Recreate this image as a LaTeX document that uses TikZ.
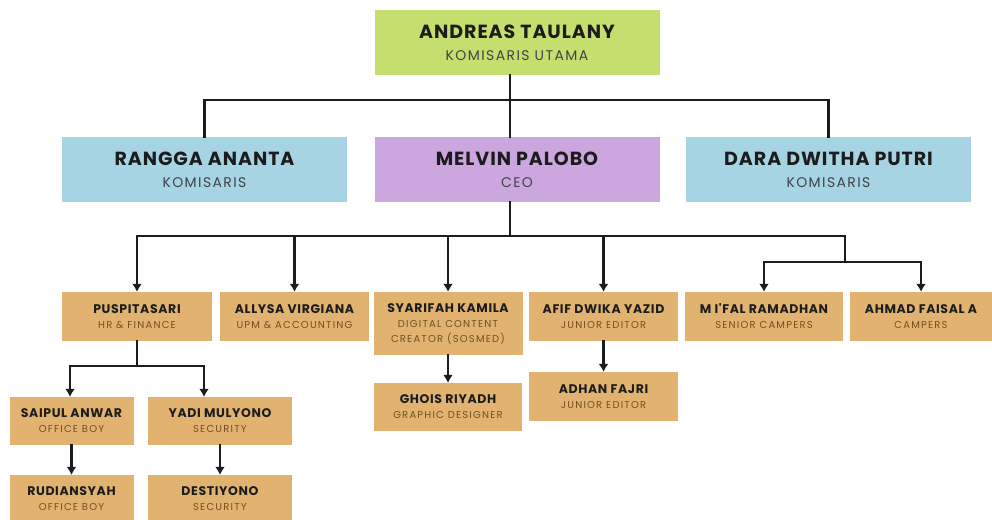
\documentclass[tikz,border=0pt]{standalone}
\usepackage{fontspec}
\setmainfont{Poppins}
\newfontfamily\namefamily{Poppins}[LetterSpace=5]
\newfontfamily\subfamily{Poppins}[LetterSpace=10]
\newfontfamily\staffsubfamily{Poppins}[LetterSpace=12]
\usetikzlibrary{arrows.meta}

\definecolor{topgreen}{RGB}{197,223,110}
\definecolor{boardblue}{RGB}{166,212,227}
\definecolor{ceopurple}{RGB}{203,166,223}
\definecolor{staffbrown}{RGB}{226,179,112}
\definecolor{inkdark}{RGB}{28,28,28}
\definecolor{subgray}{RGB}{62,68,72}
\definecolor{subbrown}{RGB}{112,80,34}

\newcommand{\bigname}{\fontsize{19}{22}\selectfont\namefamily\bfseries}
\newcommand{\smallname}{\fontsize{12.5}{15}\selectfont\namefamily\bfseries}
\newcommand{\boardsub}{\color{subgray}\subfamily}
\newcommand{\staffsub}{\color{subbrown}\staffsubfamily}

\tikzset{
    box/.style={inner sep=0pt, align=center, text=inkdark},
    board/.style={box, minimum width=285pt, minimum height=65pt,
        font=\fontsize{14}{22}\selectfont},
    staff/.style={box, fill=staffbrown, minimum height=49pt,
        font=\fontsize{10}{15}\selectfont},
    link/.style={line width=2.4pt, inkdark, line cap=rect},
    downarrow/.style={link, -{Latex[length=8pt,width=10pt]}},
}

\begin{document}
\begin{tikzpicture}[x=1pt,y=-1pt]
    \path[use as bounding box, fill=white] (0,0) rectangle (992,519);

    % board of commissioners
    \node[board, fill=topgreen] (andreas) at (517,42.5)
        {{\bigname ANDREAS TAULANY}\\{\boardsub KOMISARIS UTAMA}};
    \node[board, fill=boardblue] (rangga) at (204.5,169.5)
        {{\bigname RANGGA ANANTA}\\{\boardsub KOMISARIS}};
    \node[board, fill=ceopurple] (melvin) at (517,169.5)
        {{\bigname MELVIN PALOBO}\\{\boardsub CEO}};
    \node[board, fill=boardblue] (dara) at (828.5,169.5)
        {{\bigname DARA DWITHA PUTRI}\\{\boardsub KOMISARIS}};

    % staff under the CEO
    \node[staff, minimum width=150pt] (puspita) at (137,316.5)
        {{\smallname PUSPITASARI}\\{\staffsub HR \& FINANCE}};
    \node[staff, minimum width=149pt] (allysa) at (294.5,316.5)
        {{\smallname ALLYSA VIRGIANA}\\{\staffsub UPM \& ACCOUNTING}};
    \node[staff, minimum width=149pt, minimum height=63pt] (syarifah) at (448,323.5)
        {{\smallname SYARIFAH KAMILA}\\{\staffsub DIGITAL CONTENT}\\{\staffsub CREATOR (SOSMED)}};
    \node[staff, minimum width=149pt] (afif) at (603.5,316.5)
        {{\smallname AFIF DWIKA YAZID}\\{\staffsub JUNIOR EDITOR}};
    \node[staff, minimum width=158pt] (mifal) at (764,316.5)
        {{\smallname M I'FAL RAMADHAN}\\{\staffsub SENIOR CAMPERS}};
    \node[staff, minimum width=142pt] (ahmad) at (921,316.5)
        {{\smallname AHMAD FAISAL A}\\{\staffsub CAMPERS}};

    \node[staff, minimum width=148pt, minimum height=48pt] (ghois) at (448,407)
        {{\smallname GHOIS RIYADH}\\{\staffsub GRAPHIC DESIGNER}};
    \node[staff, minimum width=149pt] (adhan) at (603.5,396.5)
        {{\smallname ADHAN FAJRI}\\{\staffsub JUNIOR EDITOR}};

    % staff under HR
    \node[staff, minimum width=124pt, minimum height=48pt] (saipul) at (71.5,421)
        {{\smallname SAIPUL ANWAR}\\{\staffsub OFFICE BOY}};
    \node[staff, minimum width=144pt, minimum height=48pt] (yadi) at (220,421)
        {{\smallname YADI MULYONO}\\{\staffsub SECURITY}};
    \node[staff, minimum width=124pt, minimum height=48pt] (rudian) at (71.5,499)
        {{\smallname RUDIANSYAH}\\{\staffsub OFFICE BOY}};
    \node[staff, minimum width=144pt, minimum height=48pt] (destiyono) at (220,499)
        {{\smallname DESTIYONO}\\{\staffsub SECURITY}};

    % board lines
    \coordinate (trunk) at (510,100);
    \draw[link] (andreas.south -| trunk) -- (melvin.north -| trunk);
    \draw[link] (rangga.north) |- (trunk) -| (dara.north);

    % CEO lines
    \coordinate (bus) at (510,236);
    \coordinate (campfork) at (845,236);
    \coordinate (campbus) at (845,262);
    \draw[link] (melvin.south -| bus) -- (bus);
    \draw[link] (bus -| puspita.north) -- (campfork) -- (campbus);
    \foreach \n in {puspita,allysa,syarifah,afif}
        \draw[downarrow] (bus -| \n.north) -- (\n.north);
    \draw[link] (campbus -| mifal.north) -- (campbus -| ahmad.north);
    \foreach \n in {mifal,ahmad}
        \draw[downarrow] (campbus -| \n.north) -- (\n.north);

    \draw[downarrow] (syarifah.south) -- (ghois.north);
    \draw[downarrow] (afif.south) -- (adhan.north);

    % HR lines
    \coordinate (oblink) at (70,366);
    \coordinate (seclink) at (204,366);
    \draw[link] (puspita.south) -- (puspita.south |- oblink);
    \draw[link] (oblink) -- (seclink);
    \draw[downarrow] (oblink) -- (oblink |- saipul.north);
    \draw[downarrow] (seclink) -- (seclink |- yadi.north);
    \draw[downarrow] (saipul.south) -- (rudian.north);
    \draw[downarrow] (yadi.south) -- (destiyono.north);
\end{tikzpicture}
\end{document}
